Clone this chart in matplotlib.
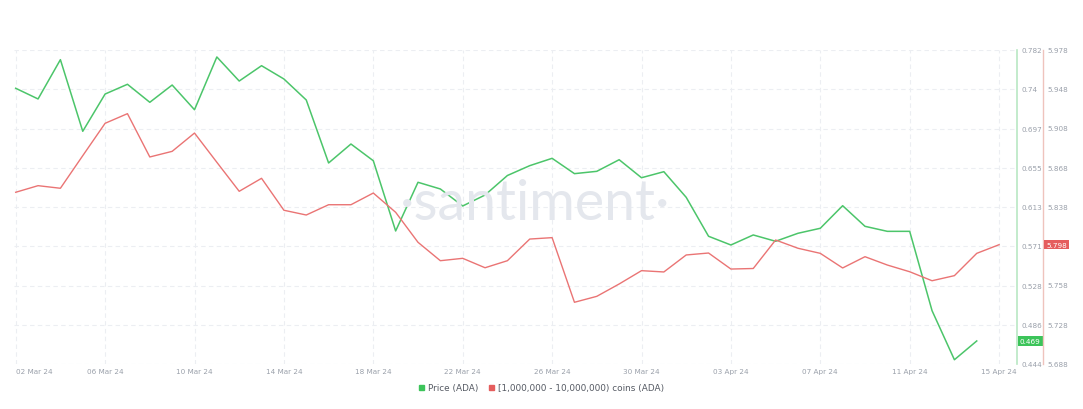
import matplotlib
matplotlib.use("Agg")
import matplotlib.pyplot as plt
import matplotlib.dates as mdates
from matplotlib.patches import Patch
import numpy as np
import pandas as pd

# ---- data ----
start_date = "2024-03-02"
price_ada = [0.7408, 0.7293, 0.7716, 0.6945, 0.7346, 0.7451, 0.7257, 0.7443, 0.7177, 0.7745,
             0.7486, 0.7651, 0.7508, 0.7282, 0.6604, 0.6808, 0.6628, 0.5872, 0.6396, 0.6324,
             0.6141, 0.6259, 0.6469, 0.6575, 0.6654, 0.6489, 0.6514, 0.6639, 0.6445, 0.6510,
             0.6234, 0.5815, 0.5721, 0.5829, 0.5761, 0.5847, 0.5901, 0.6144, 0.5922, 0.5868,
             0.5868, 0.5014, 0.4486, 0.4688]
coins_ada = [5.8466, 5.8527, 5.8503, 5.8804, 5.9103, 5.9192, 5.8792, 5.8844, 5.9013, 5.8743,
             5.8475, 5.8595, 5.8300, 5.8256, 5.8351, 5.8351, 5.8459, 5.8281, 5.8004, 5.7834,
             5.7856, 5.7769, 5.7834, 5.8034, 5.8047, 5.7450, 5.7505, 5.7619, 5.7742, 5.7730,
             5.7887, 5.7905, 5.7757, 5.7762, 5.8025, 5.7949, 5.7902, 5.7767, 5.7871, 5.7794,
             5.7732, 5.7649, 5.7696, 5.7902, 5.7982]
price_ticks = [0.444, 0.486, 0.528, 0.571, 0.613, 0.655, 0.697, 0.74, 0.782]
price_tick_labels = ["0.444", "0.486", "0.528", "0.571", "0.613", "0.655", "0.697", "0.74", "0.782"]
coins_ticks = [5.688, 5.724, 5.761, 5.797, 5.833, 5.869, 5.906, 5.942, 5.978]
coins_tick_labels = ["5.688", "5.728", "5.758", "5.798", "5.838", "5.868", "5.908", "5.948", "5.978"]
price_last_label = "0.469"
coins_last_label = "5.798"
series_names = ["Price (ADA)", "[1,000,000 - 10,000,000) coins (ADA)"]

dates_price = pd.date_range(start_date, periods=len(price_ada))
dates_coins = pd.date_range(start_date, periods=len(coins_ada))

GREEN = "#4cc56a"
RED = "#ea7474"
GRID = "#eceef2"
TXT = "#9aa0aa"

W, H = 1083, 410
fig = plt.figure(figsize=(W / 100, H / 100), dpi=100)
PT = 72 / 100  # points per pixel
left_px, right_px, top_px, bot_px = 14, 1017, 51, 365
ax = fig.add_axes([left_px / W, 1 - bot_px / H, (right_px - left_px) / W, (bot_px - top_px) / H])
ax2 = ax.twinx()

d0 = mdates.date2num(pd.Timestamp(start_date))
px_per_day = 22.35
ax.set_xlim(d0 - (15.7 - left_px) / px_per_day, d0 + (right_px - 15.7) / px_per_day)
ax.set_ylim(price_ticks[0], price_ticks[-1])
ax2.set_ylim(coins_ticks[0], coins_ticks[-1])

ax.plot(dates_price, price_ada, color=GREEN, lw=1.1, zorder=3)
ax2.plot(dates_coins, coins_ada, color=RED, lw=1.0, zorder=3)

# spines
for a in (ax, ax2):
    for s in ("top", "left", "bottom"):
        a.spines[s].set_visible(False)
ax.spines["right"].set_color("#b9e8c4")
ax.spines["right"].set_linewidth(1.2)
ax2.spines["right"].set_position(("outward", 26 * PT))
ax2.spines["right"].set_color("#efc3bd")
ax2.spines["right"].set_linewidth(1.0)

# y ticks (the badge takes the place of the matching tick label)
ax.yaxis.tick_right()
ax.set_yticks(price_ticks)
ax.set_yticklabels([l if l != price_last_label else "" for l in price_tick_labels])
ax2.set_yticks(coins_ticks)
ax2.set_yticklabels([l if l != coins_last_label else "" for l in coins_tick_labels])
for a in (ax, ax2):
    a.tick_params(axis="y", length=0, pad=4 * PT, labelsize=5.2, labelcolor=TXT)
    for lab in a.get_yticklabels():
        lab.set_verticalalignment("center")

# x ticks
xt = pd.date_range(start_date, "2024-04-15", freq="4D")
ax.set_xticks(xt)
ax.set_xticklabels([d.strftime("%d %b %y") for d in xt])
ax.tick_params(axis="x", length=0, pad=3, labelsize=5.2, labelcolor=TXT)
ax.get_xticklabels()[0].set_horizontalalignment("left")

ax.grid(True, color=GRID, lw=0.8, ls=(0, (4, 3)))
ax.set_axisbelow(True)

# watermark
fig.text(535 / W, 1 - 205 / H, "·santiment·", fontsize=40, color="#e4e7ed",
         ha="center", va="center", family="Lato", zorder=0)

# last value badges
ax.annotate(price_last_label, xy=(1.0, price_ada[-1]), xycoords=("axes fraction", "data"),
            xytext=(3 * PT, 0), textcoords="offset points", fontsize=5.2, color="white",
            ha="left", va="center", zorder=10,
            bbox=dict(boxstyle="square,pad=0.25", fc="#3cc45a", ec="none"), annotation_clip=False)
ax2.annotate(coins_last_label, xy=(1.0, coins_ada[-1]), xycoords=("axes fraction", "data"),
             xytext=(29 * PT, 0), textcoords="offset points", fontsize=5.2, color="white",
             ha="left", va="center", zorder=10,
             bbox=dict(boxstyle="square,pad=0.25", fc="#e55d5d", ec="none"), annotation_clip=False)

# legend
handles = [Patch(color="#3cc45a"), Patch(color="#e55d5d")]
fig.legend(handles, series_names, loc="center", bbox_to_anchor=(0.5, 1 - 389 / H),
           ncol=2, frameon=False, fontsize=6.4, handlelength=0.6, handleheight=0.6,
           handletextpad=0.4, columnspacing=1.2, labelcolor="#555a63")

fig.savefig("out.png", dpi=100)
